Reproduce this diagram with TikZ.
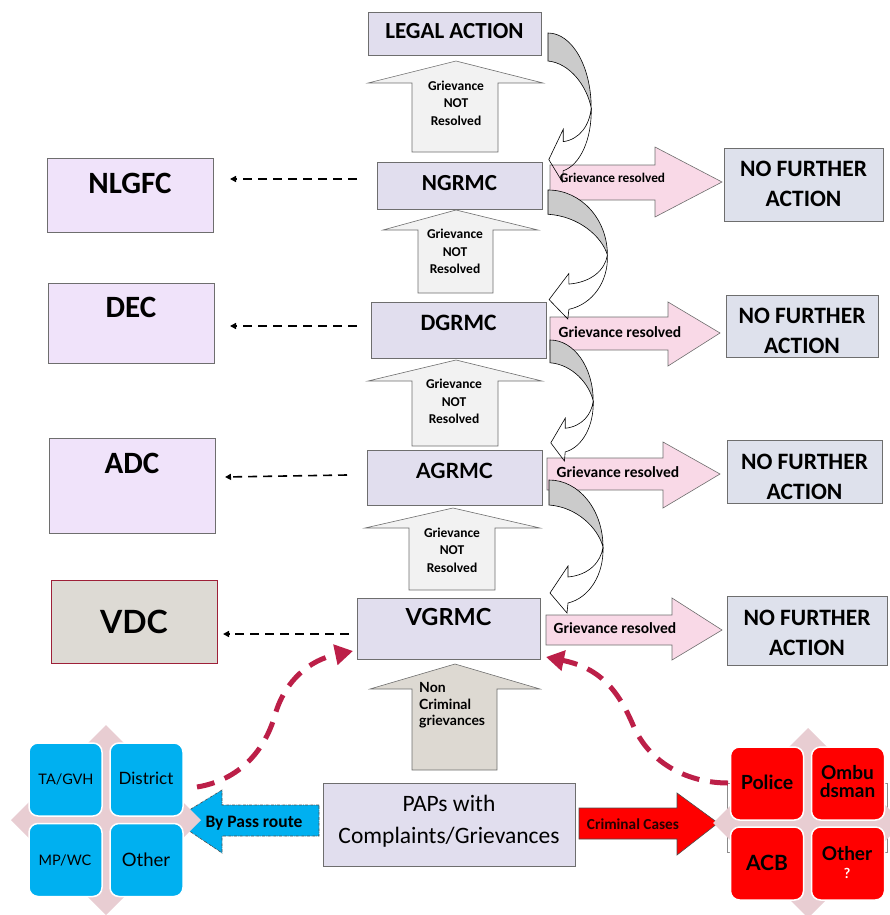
\documentclass[tikz,border=0pt]{standalone}
\usepackage{fontspec}
\setmainfont{Carlito}
\newfontfamily\gill{Lato}
\usetikzlibrary{arrows.meta}
\definecolor{midfill}{HTML}{E1DEEE}
\definecolor{boxline}{HTML}{6E6E6E}
\definecolor{leftfill}{HTML}{F0E3FA}
\definecolor{vdcfill}{HTML}{DDDAD4}
\definecolor{vdcline}{HTML}{9E2038}
\definecolor{nfafill}{HTML}{DEE1EC}
\definecolor{pinkfill}{HTML}{F9D9E7}
\definecolor{upfill}{HTML}{F2F2F2}
\definecolor{ncfill}{HTML}{DDD9D2}
\definecolor{curvgray}{HTML}{CBCBCB}
\definecolor{qblue}{HTML}{00B0F0}
\definecolor{qred}{HTML}{FF0000}
\definecolor{diam}{HTML}{E8CDD2}
\definecolor{maroon}{HTML}{BC1F48}
\newcommand{\fsz}[1]{\fontsize{#1}{#1}\selectfont}
\begin{document}
\begin{tikzpicture}[x=1pt,y=-1pt,
  box/.style={draw=boxline, line width=0.8pt, inner sep=0pt},
  midbox/.style={box, fill=midfill},
  leftbox/.style={box, fill=leftfill},
  nfabox/.style={box, fill=nfafill},
  txt/.style={inner sep=0pt, anchor=base},
  upblock/.style={draw=boxline, line width=0.6pt, fill=upfill},
  pinkblock/.style={draw=boxline, line width=0.6pt, fill=pinkfill},
  dasharrow/.style={line width=1.6pt, dash pattern=on 9pt off 6pt, -{Triangle[length=6pt,width=6pt]}},
  mdash/.style={draw=maroon, line width=5pt, dash pattern=on 18pt off 11pt, -{Triangle[length=18pt,width=20pt,fill=maroon]}},
  quad/.style={draw=white, line width=1.5pt, rounded corners=9pt, inner sep=0pt, minimum width=73pt, minimum height=73pt},
  curvback/.pic={\fill[white] (54,67) .. controls (55,95) and (40,118) .. (19,123) -- (18,133) -- (1,113) -- (19,86) -- (19,97) .. controls (40,95) and (52,82) .. (54,67) -- cycle;},
  curvfront/.pic={
    \filldraw[fill=curvgray, draw=black, line width=0.6pt] (0,0) .. controls (30,0) and (54,30) .. (54,67) .. controls (49,48) and (28,27) .. (0,25) -- cycle;
    \draw[black, line width=0.6pt, line join=miter] (54,67) .. controls (55,95) and (40,118) .. (19,123) -- (18,133) -- (1,113) -- (19,86) -- (19,97) .. controls (40,95) and (52,82) .. (54,67);
  }
]
\useasboundingbox (0,0) rectangle (889,915);

% ---------- left boxes ----------
\node[leftbox, minimum width=166pt, minimum height=74pt] (nlgfc) at (130,195) {};
\node[txt, font=\fsz{31}\bfseries] (nlgfct) at (130,193) {NLGFC};
\node[leftbox, minimum width=166pt, minimum height=80pt] (dec) at (131,323) {};
\node[txt, font=\fsz{31}\bfseries] (dect) at (131,317) {DEC};
\node[leftbox, minimum width=166pt, minimum height=95pt] (adc) at (132,485.5) {};
\node[txt, font=\fsz{31}\bfseries] (adct) at (132,473) {ADC};
\node[box, draw=vdcline, fill=vdcfill, minimum width=166pt, minimum height=83pt] (vdc) at (134,621.5) {};
\node[txt, font=\gill\fsz{32}\bfseries] (vdct) at (134,633) {VDC};

% ---------- curved arrows (back fills) ----------
\pic[xscale=0.8, yscale=1.12] at (548,33) {curvback};
\pic[xscale=1.1, yscale=0.97] at (548,190) {curvback};
\pic[xscale=0.8, yscale=0.91] at (550,340) {curvback};
\pic at (549,480) {curvback};

% ---------- middle boxes ----------
\node[midbox, minimum width=173pt, minimum height=43pt] (legal) at (454.5,33.5) {};
\node[txt, font=\fsz{23}\bfseries] (legalt) at (454.5,39) {LEGAL ACTION};
\node[midbox, minimum width=165pt, minimum height=47pt] (ngrmc) at (459.5,185.5) {};
\node[txt, font=\fsz{23}\bfseries] (ngrmct) at (459.5,190) {NGRMC};
\node[midbox, minimum width=175pt, minimum height=56pt] (dgrmc) at (458.5,330) {};
\node[txt, font=\fsz{23.5}\bfseries] (dgrmct) at (458.5,330) {DGRMC};
\node[midbox, minimum width=175pt, minimum height=55pt] (agrmc) at (454.5,477.5) {};
\node[txt, font=\gill\fsz{21}\bfseries] (agrmct) at (454.5,478) {AGRMC};
\node[midbox, minimum width=183pt, minimum height=61pt] (vgrmc) at (448.5,628.5) {};
\node[txt, font=\gill\fsz{23.5}\bfseries] (vgrmct) at (448.5,625) {VGRMC};

% ---------- up block arrows ----------
\filldraw[upblock] (412,152) -- (412,83) -- (368,83) -- (456,61) -- (543,83) -- (498,83) -- (498,152) -- cycle;
\filldraw[upblock] (418,293) -- (418,230) -- (383,230) -- (456,210) -- (538,230) -- (493,230) -- (493,293) -- cycle;
\filldraw[upblock] (412,446) -- (412,381) -- (368,381) -- (456,360) -- (542,381) -- (498,381) -- (498,446) -- cycle;
\filldraw[upblock] (409,590) -- (409,528) -- (365,528) -- (453,508) -- (540,528) -- (495,528) -- (495,590) -- cycle;
\filldraw[draw=boxline, line width=0.6pt, fill=ncfill] (412,770) -- (412,689) -- (370,689) -- (455,664) -- (540,689) -- (497,689) -- (497,770) -- cycle;
\foreach \cx/\ya/\yb/\yc [count=\i] in {456/91/108/125, 455/238/256/273, 454/388/406/423, 452/537/554/572}{
  \node[txt, font=\fsz{13.5}\bfseries] (gn\i a) at (\cx,\ya) {Grievance};
  \node[txt, font=\fsz{13.5}\bfseries] (gn\i b) at (\cx,\yb) {NOT};
  \node[txt, font=\fsz{13.5}\bfseries] (gn\i c) at (\cx,\yc) {Resolved};
}
\node[txt, anchor=base west, font=\gill\fsz{14}\bfseries] (nc1) at (419,692) {Non};
\node[txt, anchor=base west, font=\gill\fsz{14}\bfseries] (nc2) at (419,709) {Criminal};
\node[txt, anchor=base west, font=\gill\fsz{14}\bfseries] (nc3) at (419,725) {grievances};

% ---------- pink arrows ----------
\filldraw[pinkblock] (550,165) -- (655,165) -- (655,147) -- (722,182) -- (655,217) -- (655,200) -- (550,200) -- cycle;
\filldraw[pinkblock] (550,317) -- (668,317) -- (668,302) -- (720,333) -- (668,366) -- (668,350) -- (550,350) -- cycle;
\filldraw[pinkblock] (547,458) -- (663,458) -- (663,442) -- (720,474) -- (663,508) -- (663,490) -- (547,490) -- cycle;
\filldraw[pinkblock] (546,615) -- (672,615) -- (672,598) -- (722,630) -- (672,660) -- (672,645) -- (546,645) -- cycle;
\node[txt, font=\fsz{13.3}\bfseries] (gr1) at (612.5,182) {Grievance resolved};
\node[txt, font=\fsz{15.5}\bfseries] (gr2) at (620,337) {Grievance resolved};
\node[txt, font=\fsz{15.5}\bfseries] (gr3) at (618,477) {Grievance resolved};
\node[txt, font=\fsz{15.5}\bfseries] (gr4) at (615,633) {Grievance resolved};

% ---------- curved arrows (front) ----------
\pic[xscale=0.8, yscale=1.12] at (548,33) {curvfront};
\pic[xscale=1.1, yscale=0.97] at (548,190) {curvfront};
\pic[xscale=0.8, yscale=0.91] at (550,340) {curvfront};
\pic at (549,480) {curvfront};

% ---------- no further action ----------
\node[nfabox, minimum width=159pt, minimum height=73pt] (nfa1) at (803.5,184.5) {};
\node[txt, font=\fsz{23.5}\bfseries] (nfa1a) at (803.5,176) {NO FURTHER};
\node[txt, font=\fsz{23.5}\bfseries] (nfa1b) at (803.5,206) {ACTION};
\node[nfabox, minimum width=152pt, minimum height=62pt] (nfa2) at (802,326) {};
\node[txt, font=\fsz{23.5}\bfseries] (nfa2a) at (802,323) {NO FURTHER};
\node[txt, font=\fsz{23.5}\bfseries] (nfa2b) at (802,353) {ACTION};
\node[nfabox, minimum width=155pt, minimum height=63pt] (nfa3) at (804.5,471.5) {};
\node[txt, font=\fsz{23.5}\bfseries] (nfa3a) at (804.5,469) {NO FURTHER};
\node[txt, font=\fsz{23.5}\bfseries] (nfa3b) at (804.5,499) {ACTION};
\node[nfabox, minimum width=160pt, minimum height=69pt] (nfa4) at (807,630.5) {};
\node[txt, font=\fsz{23.5}\bfseries] (nfa4a) at (807,625) {NO FURTHER};
\node[txt, font=\fsz{23.5}\bfseries] (nfa4b) at (807,655) {ACTION};

% ---------- dashed black arrows ----------
\coordinate (d1s) at (357,179); \coordinate (d1e) at (230,179);
\coordinate (d2s) at (357,326); \coordinate (d2e) at (230,326);
\coordinate (d3s) at (347,475); \coordinate (d3e) at (225,477);
\coordinate (d4s) at (349,634); \coordinate (d4e) at (223,634);
\draw[dasharrow] (d1s) -- (d1e);
\draw[dasharrow] (d2s) -- (d2e);
\draw[dasharrow] (d3s) -- (d3e);
\draw[dasharrow] (d4s) -- (d4e);

% ---------- PAPs ----------
\node[midbox, minimum width=252pt, minimum height=83pt] (paps) at (449,824.5) {};
\node[txt, font=\fsz{23.5}] (papsa) at (449,811) {PAPs with};
\node[txt, font=\fsz{23.5}] (papsb) at (449,843) {Complaints/Grievances};

% ---------- by pass arrow ----------
\filldraw[fill=qblue, draw=black!70, line width=0.6pt, densely dashdotted] (319,805) -- (222,805) -- (222,790) -- (173,820) -- (222,853) -- (222,836) -- (319,836) -- cycle;
\node[txt, font=\fsz{17.5}\bfseries] (bypass) at (254,827) {By Pass route};

% ---------- criminal cases arrow ----------
\filldraw[fill=qred, draw=black!70, line width=0.6pt] (579,808) -- (677,808) -- (677,793) -- (718,823) -- (677,855) -- (677,839) -- (579,839) -- cycle;
\node[txt, font=\fsz{15.3}\bfseries, text=black!85!red] (crim) at (633,829) {Criminal Cases};

% ---------- left cluster ----------
\fill[diam] (106,725) -- (201,820) -- (106,915) -- (11,820) -- cycle;
\node[quad, fill=qblue] (tagvh) at (65.5,779.5) {};
\node[quad, fill=qblue] (district) at (146.5,779.5) {};
\node[quad, fill=qblue] (mpwc) at (65.5,860) {};
\node[quad, fill=qblue] (lother) at (146.5,860) {};
\node[txt, font=\gill\fsz{14.5}] (tagvht) at (66,784) {TA/GVH};
\node[txt, font=\gill\fsz{17}] (districtt) at (146,784) {District};
\node[txt, font=\gill\fsz{14.5}] (mpwct) at (65,865) {MP/WC};
\node[txt, font=\gill\fsz{18.5}] (lothert) at (146,866) {Other};

% ---------- right cluster ----------
\draw[draw=black!45, line width=0.8pt] (727,783) rectangle (887,852);
\fill[diam] (808,728) -- (903,823) -- (808,918) -- (713,823) -- cycle;
\coordinate (rcstart) at (728,783);
\coordinate (rcend) at (546,657);
\draw[mdash] (rcstart) .. controls (690,783) and (650,765) .. (633,725) .. controls (618,690) and (600,668) .. (rcend);
\node[quad, fill=qred] (police) at (767,783.5) {};
\node[quad, fill=qred] (ombud) at (848,783.5) {};
\node[quad, fill=qred] (acb) at (767,863.5) {};
\node[quad, fill=qred] (rother) at (848,863.5) {};
\node[txt, font=\gill\fsz{19.5}\bfseries] (policet) at (767,789) {Police};
\node[txt, font=\gill\fsz{19}\bfseries] (ombuda) at (847.5,779) {Ombu};
\node[txt, font=\gill\fsz{19}\bfseries] (ombudb) at (847.5,797) {dsman};
\node[txt, font=\gill\fsz{21}\bfseries] (acbt) at (767,870) {ACB};
\node[txt, font=\gill\fsz{19}\bfseries] (rothert) at (847,860) {Other};
\node[txt, font=\gill\fsz{14}\bfseries, text=white] (qmark) at (847,878) {?};

% ---------- left maroon dashed curve ----------
\coordinate (lcstart) at (197,787);
\coordinate (lcend) at (353,651);
\draw[mdash] (lcstart) .. controls (240,780) and (265,750) .. (275,715) .. controls (285,680) and (310,660) .. (lcend);
\end{tikzpicture}
\end{document}
